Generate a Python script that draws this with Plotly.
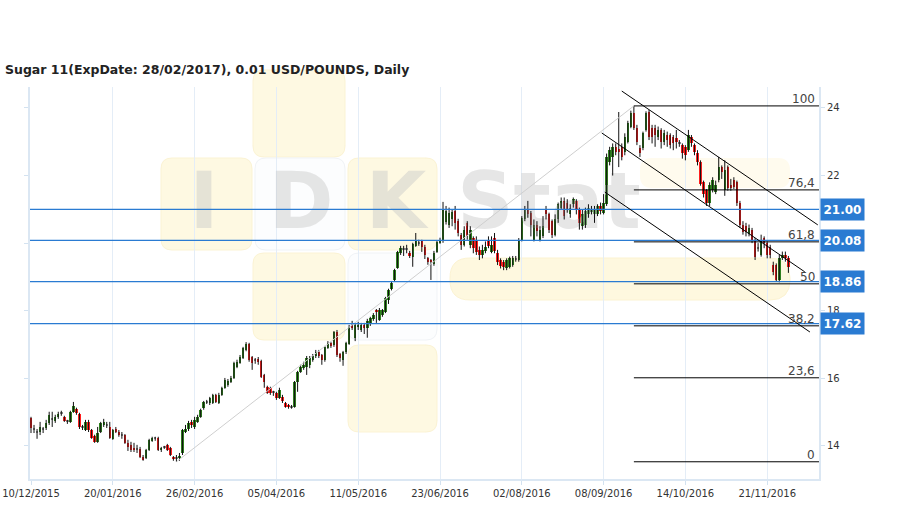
import plotly.graph_objects as go

# ---------------- data ----------------
tick_labels = ["10/12/2015", "20/01/2016", "26/02/2016", "05/04/2016", "11/05/2016",
               "23/06/2016", "02/08/2016", "08/09/2016", "14/10/2016", "21/11/2016"]
bars_per_tick = 27

open_ = [
    14.83, 14.50, 14.44, 14.41, 14.50, 14.53, 14.68, 14.80, 14.74, 14.86,
    14.95, 14.86, 14.74, 14.71, 15.01, 15.10, 14.95, 14.56, 14.47, 14.71,
    14.47, 14.30, 14.12, 14.41, 14.62, 14.62, 14.56, 14.21, 14.50, 14.41,
    14.33, 14.32, 14.09, 14.03, 13.94, 13.88, 13.91, 13.67, 13.64, 13.88,
    14.15, 14.21, 14.24, 13.88, 13.94, 14.03, 13.94, 13.67, 13.64, 13.64,
    13.79, 14.41, 14.50, 14.71, 14.56, 14.71, 14.86, 15.12, 15.30, 15.27,
    15.27, 15.51, 15.27, 15.51, 15.72, 15.80, 15.89, 16.01, 16.34, 16.46,
    16.60, 16.84, 17.02, 16.63, 16.55, 16.57, 16.52, 16.10, 15.75, 15.72,
    15.60, 15.57, 15.42, 15.45, 15.27, 15.21, 15.16, 15.16, 15.89, 16.19,
    16.30, 16.34, 16.40, 16.55, 16.66, 16.78, 16.69, 16.55, 16.90, 17.05,
    16.99, 17.37, 16.72, 16.55, 16.78, 17.02, 17.58, 17.20, 17.52, 17.43,
    17.58, 17.49, 17.61, 17.76, 18.02, 17.73, 17.87, 17.96, 18.32, 18.65,
    18.91, 19.27, 19.72, 19.83, 19.80, 19.71, 19.59, 19.92, 20.01, 20.07,
    19.89, 19.56, 19.50, 19.39, 19.74, 20.01, 20.07, 20.63, 20.55, 20.70,
    20.95, 20.65, 20.25, 19.95, 20.60, 19.95, 20.15, 20.10, 19.80, 19.65,
    19.78, 20.10, 19.75, 20.15, 19.72, 19.50, 19.45, 19.25, 19.30, 19.35,
    19.55, 19.50, 20.10, 20.70, 21.00, 20.90, 20.10, 20.55, 20.10, 20.20,
    21.00, 20.85, 20.65, 20.25, 20.70, 21.05, 21.25, 21.20, 20.85, 21.15,
    21.25, 21.00, 20.50, 20.55, 20.85, 20.95, 20.85, 20.85, 21.10, 20.90,
    21.15, 22.40, 22.55, 22.85, 22.80, 22.85, 22.70, 23.00, 23.44, 23.85,
    23.41, 22.82, 22.82, 23.35, 23.88, 23.41, 23.41, 23.14, 23.35, 22.99,
    23.20, 23.20, 23.14, 23.10, 22.97, 22.91, 22.85, 22.76, 23.14, 22.91,
    22.67, 22.40, 21.80, 21.57, 21.19, 21.57, 21.50, 21.87, 22.26, 21.57,
    22.26, 21.72, 21.87, 21.81, 21.19, 20.54, 20.50, 20.27, 20.39, 20.09,
    19.88, 19.65, 20.15, 20.01, 19.90, 19.35, 19.35, 18.91, 19.56, 19.65,
    19.56,
]
high = [
    14.86, 14.62, 14.50, 14.71, 14.56, 14.77, 15.01, 15.01, 14.92, 15.01,
    15.04, 14.89, 14.77, 15.04, 15.30, 15.13, 14.98, 14.62, 14.77, 14.77,
    14.50, 14.33, 14.56, 14.71, 14.80, 14.71, 14.71, 14.50, 14.56, 14.47,
    14.41, 14.35, 14.18, 14.12, 14.09, 14.03, 13.97, 13.73, 13.91, 14.21,
    14.27, 14.27, 14.27, 13.97, 14.00, 14.06, 13.97, 13.70, 13.73, 13.79,
    14.50, 14.62, 14.74, 14.77, 14.86, 14.92, 15.10, 15.33, 15.36, 15.45,
    15.54, 15.54, 15.57, 15.75, 16.01, 15.98, 16.07, 16.49, 16.55, 16.69,
    16.93, 17.07, 17.05, 16.66, 16.60, 16.63, 16.55, 16.13, 15.78, 15.75,
    15.63, 15.60, 15.72, 15.51, 15.30, 15.24, 15.21, 15.92, 16.22, 16.40,
    16.49, 16.66, 16.66, 16.72, 16.84, 16.84, 16.72, 16.96, 17.10, 17.08,
    17.40, 17.43, 16.75, 16.81, 17.08, 17.58, 17.70, 17.64, 17.67, 17.64,
    17.64, 17.76, 17.82, 17.93, 18.05, 18.08, 18.05, 18.41, 18.65, 18.88,
    19.24, 19.77, 19.92, 19.92, 19.95, 19.77, 20.01, 20.30, 20.10, 20.10,
    19.95, 19.59, 19.53, 19.77, 20.07, 20.16, 21.22, 21.10, 21.05, 21.00,
    21.10, 20.72, 20.30, 20.50, 20.65, 20.50, 20.20, 20.20, 19.90, 19.95,
    20.05, 20.20, 20.20, 20.30, 19.80, 19.55, 19.50, 19.55, 19.60, 19.62,
    19.62, 20.15, 20.80, 21.10, 21.25, 20.95, 20.70, 20.65, 20.50, 20.80,
    21.10, 20.90, 20.70, 20.85, 21.20, 21.35, 21.35, 21.30, 21.15, 21.35,
    21.30, 21.05, 21.00, 21.05, 21.15, 21.10, 21.10, 21.15, 21.20, 21.45,
    22.65, 22.85, 22.95, 22.95, 23.88, 22.95, 23.25, 23.62, 23.92, 24.06,
    23.50, 22.90, 23.30, 23.90, 23.94, 23.50, 23.50, 23.45, 23.40, 23.35,
    23.30, 23.25, 23.20, 23.35, 23.05, 22.95, 22.90, 23.35, 23.20, 22.95,
    22.75, 22.45, 21.85, 21.60, 21.80, 21.95, 21.85, 22.55, 22.30, 22.45,
    22.30, 21.90, 21.95, 21.85, 21.25, 20.65, 20.60, 20.55, 20.45, 20.15,
    20.00, 20.25, 20.20, 20.05, 19.95, 19.45, 19.40, 19.65, 19.75, 19.75,
    19.62,
]
low = [
    14.38, 14.38, 14.21, 14.32, 14.38, 14.47, 14.62, 14.56, 14.68, 14.80,
    14.89, 14.71, 14.65, 14.68, 14.98, 14.92, 14.50, 14.47, 14.44, 14.41,
    14.21, 14.09, 14.09, 14.38, 14.56, 14.53, 14.21, 14.18, 14.38, 14.27,
    14.21, 14.06, 13.85, 13.82, 13.82, 13.79, 13.64, 13.56, 13.61, 13.85,
    14.12, 14.15, 13.85, 13.82, 13.91, 13.85, 13.70, 13.56, 13.53, 13.56,
    13.73, 14.38, 14.44, 14.53, 14.50, 14.68, 14.83, 15.07, 15.24, 15.21,
    15.24, 15.27, 15.24, 15.48, 15.69, 15.75, 15.86, 15.98, 16.30, 16.43,
    16.57, 16.80, 16.49, 16.25, 16.43, 16.40, 16.01, 15.72, 15.54, 15.51,
    15.48, 15.36, 15.39, 15.27, 15.13, 15.10, 15.10, 15.13, 15.60, 16.16,
    16.25, 16.10, 16.30, 16.49, 16.60, 16.60, 16.40, 16.49, 16.87, 16.90,
    16.93, 16.63, 16.49, 16.37, 16.72, 16.99, 17.43, 17.10, 17.43, 17.37,
    17.31, 17.20, 17.55, 17.70, 17.64, 17.70, 17.82, 17.93, 18.20, 18.60,
    18.88, 19.24, 19.65, 19.62, 19.70, 19.56, 19.30, 19.89, 19.92, 19.74,
    19.53, 19.36, 18.91, 19.33, 19.71, 19.98, 20.01, 20.55, 20.45, 20.50,
    20.40, 20.20, 19.80, 19.90, 20.10, 19.85, 19.70, 19.65, 19.50, 19.55,
    19.70, 19.85, 19.70, 19.70, 19.35, 19.25, 19.20, 19.20, 19.25, 19.30,
    19.45, 19.45, 20.05, 20.65, 20.75, 20.20, 20.05, 20.20, 20.05, 20.15,
    20.70, 20.30, 20.15, 20.20, 20.60, 21.00, 20.70, 20.90, 20.75, 21.05,
    20.85, 20.40, 20.40, 20.45, 20.75, 20.85, 20.60, 20.80, 20.85, 20.85,
    21.10, 22.30, 22.00, 22.60, 22.25, 22.45, 22.60, 22.95, 23.40, 23.35,
    22.90, 22.55, 22.75, 23.30, 23.05, 22.95, 22.85, 23.05, 22.80, 22.90,
    22.85, 22.80, 22.75, 22.80, 22.85, 22.50, 22.45, 22.70, 22.85, 22.60,
    22.30, 21.70, 21.35, 21.10, 21.10, 21.50, 21.45, 21.80, 21.90, 21.40,
    21.55, 21.55, 21.60, 21.10, 20.45, 20.25, 20.20, 20.20, 20.00, 19.50,
    19.75, 19.60, 19.85, 19.55, 19.55, 19.05, 18.85, 18.84, 19.50, 19.45,
    19.12,
]
close = [
    14.53, 14.47, 14.40, 14.56, 14.47, 14.68, 14.92, 14.77, 14.86, 14.95,
    14.98, 14.74, 14.71, 15.01, 15.18, 14.98, 14.56, 14.53, 14.71, 14.47,
    14.24, 14.12, 14.38, 14.68, 14.71, 14.60, 14.24, 14.47, 14.41, 14.32,
    14.30, 14.09, 13.97, 13.88, 13.88, 13.91, 13.67, 13.59, 13.88, 14.18,
    14.24, 14.24, 13.88, 13.94, 13.97, 13.88, 13.73, 13.62, 13.62, 13.70,
    14.47, 14.50, 14.68, 14.62, 14.77, 14.86, 15.07, 15.30, 15.28, 15.42,
    15.51, 15.30, 15.51, 15.72, 15.95, 15.92, 16.01, 16.46, 16.49, 16.63,
    16.90, 17.02, 16.55, 16.46, 16.52, 16.49, 16.04, 15.89, 15.57, 15.57,
    15.57, 15.42, 15.66, 15.33, 15.16, 15.16, 15.13, 15.89, 16.19, 16.34,
    16.40, 16.60, 16.63, 16.66, 16.78, 16.66, 16.55, 16.93, 17.05, 16.96,
    17.37, 16.69, 16.60, 16.78, 17.05, 17.52, 17.49, 17.58, 17.58, 17.58,
    17.49, 17.70, 17.79, 17.87, 17.96, 18.02, 18.02, 18.38, 18.62, 18.82,
    19.21, 19.74, 19.86, 19.80, 19.83, 19.62, 19.98, 20.07, 19.98, 19.89,
    19.65, 19.45, 19.45, 19.71, 20.04, 20.10, 21.00, 20.95, 20.90, 20.92,
    20.60, 20.30, 19.95, 20.40, 20.20, 20.40, 19.85, 19.75, 19.65, 19.80,
    19.90, 19.92, 19.95, 19.78, 19.45, 19.32, 19.30, 19.50, 19.55, 19.55,
    19.52, 20.10, 20.75, 20.98, 20.85, 20.55, 20.55, 20.35, 20.40, 20.50,
    20.85, 20.40, 20.25, 20.70, 21.15, 21.25, 20.80, 21.00, 21.05, 21.30,
    21.00, 20.60, 20.85, 20.95, 21.05, 21.00, 21.00, 21.10, 20.95, 21.20,
    22.55, 22.75, 22.85, 22.70, 22.70, 22.55, 23.14, 23.56, 23.85, 23.41,
    22.99, 22.67, 23.26, 23.85, 23.14, 23.14, 23.20, 23.35, 22.99, 23.26,
    23.05, 22.91, 22.96, 22.99, 22.95, 22.67, 22.60, 23.20, 22.96, 22.70,
    22.40, 21.75, 21.45, 21.19, 21.72, 21.87, 21.72, 22.26, 22.10, 22.17,
    21.63, 21.63, 21.66, 21.19, 20.54, 20.33, 20.33, 20.45, 20.09, 19.59,
    19.85, 20.09, 20.01, 19.65, 19.65, 19.15, 18.91, 19.56, 19.65, 19.56,
    19.30,
]

support_levels = [21.00, 20.08, 18.86, 17.62]
fib_percents = [0, 23.6, 38.2, 50, 61.8, 76.4, 100]
# downward channel: ((bar index, price), (bar index, price))
channel_lines = [
    ((195.0, 24.50), (259.7, 20.54)),
    ((188.4, 23.26), (255.4, 19.15)),
    ((189.4, 21.51), (257.1, 17.37)),
]
y_ticks = [14, 16, 18, 20, 22, 24]
y_ticks_hidden = [20]   # covered by the 20.08 price box in the original

title_text = "Sugar 11(ExpDate: 28/02/2017), 0.01 USD/POUNDS, Daily"

# ---------------- geometry ----------------
W, H = 909, 509
ML, MR, MT, MB = 30, 90, 87, 30
PW, PH = W - ML - MR, H - MT - MB
X0, X1 = -0.33, 260.1
Y0, Y1 = 13.02, 24.62


def px_x(px):
    return X0 + (px - ML) / PW * (X1 - X0)


def px_y(py):
    return Y1 - (py - MT) / PH * (Y1 - Y0)


def paper(px, py):
    return (px - ML) / PW, (H - MB - py) / PH


GREEN = "#2f7f1f"
RED = "#ff1f1f"
GRAY = "#8a8a8a"
BLUE = "#2a7bd2"

n = len(close)
idx = list(range(n))

# ---------------- figure ----------------
fig = go.Figure()

# watermark text (behind candles)
wm_text = [("I", 204, 208), ("D", 301, 208), ("K", 396, 208), ("Stat", 549, 208)]
fig.add_trace(go.Scatter(
    x=[px_x(t[1]) for t in wm_text], y=[px_y(t[2]) for t in wm_text],
    mode="text", text=[t[0] for t in wm_text],
    textfont=dict(family="DejaVu Sans", size=78, color="rgba(200,200,200,0.45)", weight="bold"),
    hoverinfo="skip", showlegend=False))

# wicks
wx, wy = [], []
for i in idx:
    wx += [i, i, None]
    wy += [low[i], high[i], None]
fig.add_trace(go.Scatter(x=wx, y=wy, mode="lines", line=dict(color="#111111", width=1),
                         hoverinfo="skip", showlegend=False))

# bodies
base, body, colors = [], [], []
for o, c in zip(open_, close):
    base.append(min(o, c))
    body.append(max(abs(c - o), 0.035))
    if abs(c - o) < 0.04:
        colors.append(GRAY)
    elif c > o:
        colors.append(GREEN)
    else:
        colors.append(RED)
fig.add_trace(go.Bar(x=idx, y=body, base=base, width=0.8,
                     marker=dict(color=colors, line=dict(width=0)),
                     hoverinfo="skip", showlegend=False))

shapes = []


def rrect(x0, y0, x1, y1, r=11):
    def P(px, py):
        a, b = paper(px, py)
        return f"{a:.5f},{b:.5f}"
    return (f"M {P(x0 + r, y0)} L {P(x1 - r, y0)} Q {P(x1, y0)} {P(x1, y0 + r)} "
            f"L {P(x1, y1 - r)} Q {P(x1, y1)} {P(x1 - r, y1)} L {P(x0 + r, y1)} "
            f"Q {P(x0, y1)} {P(x0, y1 - r)} L {P(x0, y0 + r)} Q {P(x0, y0)} {P(x0 + r, y0)} Z")


yellow_tiles = [(253, 70, 345, 157), (161, 158, 252, 250), (348, 158, 437, 250),
                (253, 253, 345, 340), (348, 345, 437, 432)]
white_tiles = [(255, 158, 345, 250), (348, 253, 437, 340)]
for t in yellow_tiles:
    shapes.append(dict(type="path", path=rrect(*t), xref="paper", yref="paper",
                       fillcolor="#fef9e2", line=dict(color="#fbf3d4", width=1), layer="below"))
for t in white_tiles:
    shapes.append(dict(type="path", path=rrect(*t), xref="paper", yref="paper",
                       fillcolor="#fcfdfe", line=dict(color="#f0f3f6", width=1), layer="below"))
shapes.append(dict(type="path", path=rrect(450, 258, 790, 300, r=20), xref="paper", yref="paper",
                   fillcolor="#fef8df", line=dict(color="#fcf3d2", width=1), layer="below"))
shapes.append(dict(type="path", path=rrect(640, 158, 790, 188, r=12), xref="paper", yref="paper",
                   fillcolor="#fffbee", line=dict(width=0), layer="below"))

# fibonacci range line (low -> high)
i_lo = low.index(min(low))
i_hi = high.index(max(high))
fib_lo, fib_hi = min(low), max(high)
shapes.append(dict(type="line", xref="x", yref="y", x0=i_lo, y0=fib_lo, x1=i_hi, y1=fib_hi,
                   line=dict(color="#cfcfcf", width=1)))

# support / resistance lines
for lv in support_levels:
    shapes.append(dict(type="line", xref="paper", yref="y", x0=0, x1=1, y0=lv, y1=lv,
                       line=dict(color=BLUE, width=1.2)))

# fibonacci levels
annotations = []
for p in fib_percents:
    lv = fib_lo + (fib_hi - fib_lo) * p / 100.0
    shapes.append(dict(type="line", xref="x", yref="y", x0=i_hi, x1=X1, y0=lv, y1=lv,
                       line=dict(color="#000000", width=1)))
    lab = ("%g" % p).replace(".", ",")
    annotations.append(dict(text=lab, xref="paper", yref="y", x=1, y=lv, xanchor="right",
                            yanchor="bottom", xshift=-2, yshift=-2, showarrow=False,
                            font=dict(family="DejaVu Sans", size=12, color="#444444")))

# channel lines
for (xa, ya), (xb, yb) in channel_lines:
    shapes.append(dict(type="line", xref="x", yref="y", x0=xa, y0=ya, x1=xb, y1=yb,
                       line=dict(color="#000000", width=1)))

for lv in support_levels:
    annotations.append(dict(text="<b>%.2f</b>" % lv, xref="paper", yref="y", x=1, y=lv,
                            xanchor="left", yanchor="middle", xshift=1, showarrow=False,
                            bgcolor=BLUE, width=43, height=21, borderpad=0,
                            font=dict(family="DejaVu Sans", size=12, color="#ffffff")))

annotations.append(dict(text="<b>" + title_text + "</b>", xref="paper", yref="paper",
                        x=paper(3, 69)[0], y=paper(3, 69)[1], xanchor="left", yanchor="middle",
                        showarrow=False, font=dict(family="DejaVu Sans", size=12.5, color="#222222")))

tickvals = [k * bars_per_tick for k in range(len(tick_labels))]
y_ticktext = ["" if v in y_ticks_hidden else str(v) for v in y_ticks]

fig.update_layout(
    width=W, height=H, margin=dict(l=ML, r=MR, t=MT, b=MB, pad=0, autoexpand=False),
    paper_bgcolor="#ffffff", plot_bgcolor="#ffffff",
    showlegend=False, hovermode=False, bargap=0,
    shapes=shapes, annotations=annotations,
    xaxis=dict(range=[X0, X1], tickvals=tickvals, ticktext=tick_labels, automargin=False,
               showgrid=True, gridcolor="#e4edf7", gridwidth=1, zeroline=False,
               showline=True, linecolor="#dbe7f3", linewidth=2,
               ticks="outside", ticklen=4, tickcolor="#d3e2f0",
               tickfont=dict(family="DejaVu Sans", size=10, color="#333333")),
    yaxis=dict(range=[Y0, Y1], side="right", tickvals=y_ticks, ticktext=y_ticktext,
               automargin=False, showgrid=False, zeroline=False,
               showline=True, linecolor="#dbe7f3", linewidth=2, mirror="ticks",
               ticks="outside", ticklen=4, tickcolor="#d3e2f0",
               tickfont=dict(family="DejaVu Sans", size=10, color="#333333")),
)

fig.write_html("out.html", config={"displayModeBar": False},
               post_script="document.body.style.margin='0';")
